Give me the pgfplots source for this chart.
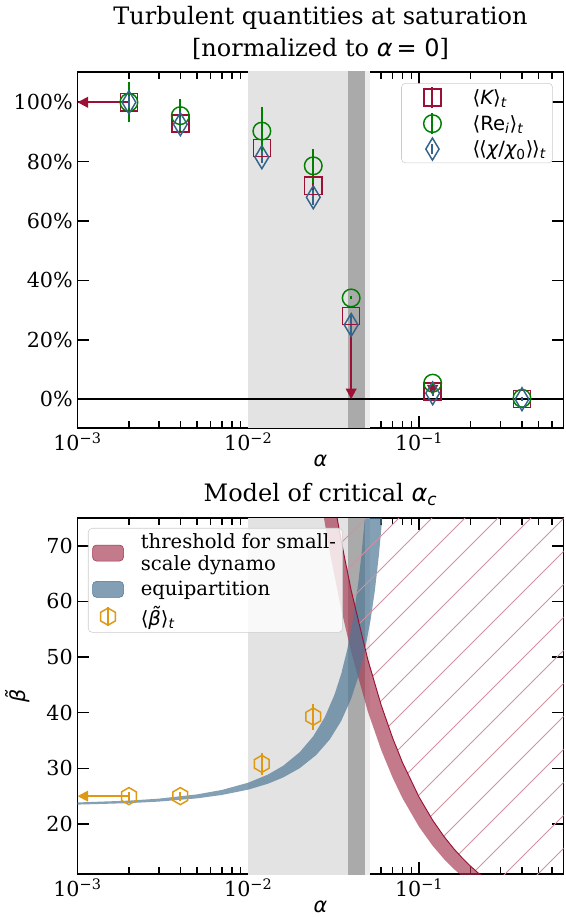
\documentclass[border=0pt]{standalone}
\usepackage{fontspec}
\setmainfont{DejaVu Serif}
\newfontfamily\dvs{DejaVu Sans}
\usepackage{pgfplots}
\pgfplotsset{compat=1.18}
\usetikzlibrary{arrows.meta,patterns.meta}

\definecolor{Kc}{RGB}{155,16,52}
\definecolor{Rc}{RGB}{0,128,0}
\definecolor{Cc}{RGB}{52,100,138}
\definecolor{Bc}{RGB}{222,152,18}
\definecolor{redband}{RGB}{163,51,77}
\definecolor{blueband}{RGB}{79,119,150}
\definecolor{hatchc}{RGB}{208,145,160}
\definecolor{lg}{RGB}{227,227,227}
\definecolor{dg}{RGB}{170,170,170}
\definecolor{lgb}{RGB}{236,236,236}

\pgfdeclareplotmark{hex}{%
  \pgfpathmoveto{\pgfqpointpolar{90}{\pgfplotmarksize}}%
  \pgfpathlineto{\pgfqpointpolar{150}{\pgfplotmarksize}}%
  \pgfpathlineto{\pgfqpointpolar{210}{\pgfplotmarksize}}%
  \pgfpathlineto{\pgfqpointpolar{270}{\pgfplotmarksize}}%
  \pgfpathlineto{\pgfqpointpolar{330}{\pgfplotmarksize}}%
  \pgfpathlineto{\pgfqpointpolar{30}{\pgfplotmarksize}}%
  \pgfpathclose
  \pgfusepathqstroke}

\newcommand\fs{\fontsize{15.5pt}{18.6pt}\selectfont}
\newcommand\fl{\fontsize{14.7pt}{16.5pt}\selectfont}
\newcommand\ft{\fontsize{18pt}{24pt}\selectfont}
\newcommand\mi[1]{{\dvs\itshape #1}}
\newcommand\sub[1]{\textsubscript{\dvs\itshape #1}}

\pgfplotsset{every axis/.append style={
  scale only axis, width=364.5pt, height=267pt,
  xmin=0.001, xmax=0.7,
  xtick={0.001,0.01,0.1},
  xticklabels={10\textsuperscript{−3},10\textsuperscript{−2},10\textsuperscript{−1}},
  minor xtick={0.002,0.003,0.004,0.005,0.006,0.007,0.008,0.009,0.02,0.03,0.04,0.05,0.06,0.07,0.08,0.09,0.2,0.3,0.4,0.5,0.6,0.7},
  tick align=inside, major tick length=9pt, minor tick length=5.5pt,
  every tick/.style={black, line width=1.2pt},
  axis line style={line width=1.4pt},
  tick label style={font=\fs},
  label style={font=\fs},
  xlabel style={yshift=4pt},
  title style={font=\ft, align=center},
  xlabel={\mi{α}},
  legend cell align=left,
}}

\begin{document}
\begin{tikzpicture}
\useasboundingbox (-58.125pt,-366.75pt) rectangle (365.625pt,321pt);

% ---------------- top panel ----------------
\begin{semilogxaxis}[at={(0pt,0pt)}, anchor=south west,
  ymin=-9.7, ymax=110.2,
  ytick={0,20,40,60,80,100},
  yticklabels={0\%,20\%,40\%,60\%,80\%,100\%},
  title={Turbulent quantities at saturation\\{[}normalized to \mi{α}\,{\dvs = 0}]},
  legend style={at={(0.978,0.969)}, anchor=north east, font=\fl,
    draw=black!20, fill=white, fill opacity=0.8, draw opacity=1, text opacity=1,
    rounded corners=3pt, row sep=2pt},
]
\addplot[forget plot, draw=none, fill=lg] coordinates {(0.01,-20) (0.0384,-20) (0.0384,120) (0.01,120)} --cycle;
\addplot[forget plot, draw=none, fill=dg] coordinates {(0.0384,-20) (0.0481,-20) (0.0481,120) (0.0384,120)} --cycle;
\addplot[forget plot, draw=none, fill=lgb] coordinates {(0.0481,-20) (0.0517,-20) (0.0517,120) (0.0481,120)} --cycle;
\addplot[forget plot, black, line width=1.1pt] coordinates {(0.0005,0) (1,0)};

\addplot[forget plot, Kc, line width=1.5pt, -{Triangle[width=8pt,length=8pt]}] coordinates {(0.002,100) (0.001,100)};
\addplot[forget plot, Kc, line width=1.5pt, -{Triangle[width=8pt,length=8pt]}] coordinates {(0.04,28) (0.04,0)};
\addplot[forget plot, Kc, line width=1.5pt, -{Triangle[width=8pt,length=8pt]}] coordinates {(0.12,4.6) (0.12,1.2)};

\addplot[forget plot, only marks, Kc, mark=square, mark size=6.4pt, mark options={line width=1.1pt},
  error bars/.cd, y dir=both, y explicit, error mark=none, error bar style={line width=1.5pt, Kc}]
  table[x=x, y=y, y error=e] {
x y e
0.002 100 1
0.004 92.9 1.5
0.012 84.6 2
0.024 71.9 2
0.04 28 0
0.12 2.6 0.5
0.4 0 0.5
};
\addplot[forget plot, only marks, Rc, mark=o, mark size=6.6pt, mark options={line width=1.1pt},
  error bars/.cd, y dir=both, y explicit, error mark=none, error bar style={line width=1.5pt, Rc}]
  table[x=x, y=y, y error=e] {
x y e
0.002 100 6.8
0.004 95.5 5.7
0.012 90.3 8
0.024 78.6 5.7
0.04 34.1 0.5
0.12 5.4 0.5
0.4 0.3 0.5
};
\addplot[forget plot, only marks, Cc, mark=diamond, mark size=8.6pt, mark options={line width=1.1pt, xscale=0.8},
  error bars/.cd, y dir=both, y explicit, error mark=none, error bar style={line width=1.5pt, Cc}]
  table[x=x, y=y, y error=e] {
x y e
0.002 100 2
0.004 92.6 2
0.012 81.5 2
0.024 68 2.5
0.04 25 3.5
0.12 2 1
0.4 0 0.5
};

\addlegendimage{legend image code/.code={
  \path (-20pt,0pt) (28pt,0pt);
  \draw[Kc, line width=1.5pt] (0pt,-8pt) -- (0pt,8pt);
  \draw[Kc, line width=1.1pt, mark=square, mark size=6.4pt] plot coordinates {(0pt,0pt)};}}
\addlegendentry{{\dvs ⟨\mi{K}⟩}\sub{t}}
\addlegendimage{legend image code/.code={
  \path (-20pt,0pt) (28pt,0pt);
  \draw[Rc, line width=1.5pt] (0pt,-8pt) -- (0pt,8pt);
  \draw[Rc, line width=1.1pt, mark=o, mark size=6.6pt] plot coordinates {(0pt,0pt)};}}
\addlegendentry{{\dvs ⟨Re\sub{i}⟩}\sub{t}}
\addlegendimage{legend image code/.code={
  \path (-20pt,0pt) (28pt,0pt);
  \draw[Cc, line width=1.5pt] (0pt,-4pt) -- (0pt,4pt);
  \draw[Cc, line width=1.1pt, mark=diamond, mark size=8.3pt, mark options={xscale=0.8}] plot coordinates {(0pt,0pt)};}}
\addlegendentry{{\dvs ⟨\kern-1pt⟨\mi{χ}/\mi{χ}\textsubscript{0}⟩\kern-1pt⟩}\sub{t}}
\end{semilogxaxis}

% ---------------- bottom panel ----------------
\begin{semilogxaxis}[at={(0pt,-334.5pt)}, anchor=south west,
  ymin=11, ymax=75,
  ytick={20,30,40,50,60,70},
  yticklabels={20,30,40,50,60,70},
  ylabel={\mi{β̃}},
  ylabel style={yshift=6pt},
  title={Model of critical \mi{α}\sub{c}},
  legend style={at={(0.0216,0.972)}, anchor=north west, font=\fl,
    draw=black!20, fill=white, fill opacity=0.8, draw opacity=1, text opacity=1,
    rounded corners=3pt, row sep=2.5pt},
]
\addplot[forget plot, draw=none, fill=lg] coordinates {(0.01,0) (0.0384,0) (0.0384,90) (0.01,90)} --cycle;
\addplot[forget plot, draw=none, fill=dg] coordinates {(0.0384,0) (0.0481,0) (0.0481,90) (0.0384,90)} --cycle;
\addplot[forget plot, draw=none, fill=lgb] coordinates {(0.0481,0) (0.0517,0) (0.0517,90) (0.0481,90)} --cycle;

% threshold band
\addplot[forget plot, draw=none, fill=redband, fill opacity=0.65] coordinates {
(0.0265,78.5) (0.03,68.86) (0.035,58.57) (0.04,50.93) (0.05,40.28) (0.06,33.27) (0.07,28.30) (0.08,24.59) (0.1,19.46) (0.12,16.07) (0.14,13.67) (0.16,11.88) (0.18,10.50)
(0.235,10.55) (0.22,11.27) (0.2,12.4) (0.18,13.78) (0.16,15.5) (0.14,17.71) (0.12,20.67) (0.1,24.8) (0.08,31.0) (0.07,35.43) (0.06,41.33) (0.05,49.6) (0.04,62.0) (0.035,70.86) (0.032,77.5)
} --cycle;

% equipartition band
\addplot[forget plot, draw=none, fill=blueband, fill opacity=0.7] coordinates {
(0.0009,23.81) (0.002,24.19) (0.003,24.55) (0.005,25.31) (0.007,26.11) (0.01,27.42) (0.013,28.86) (0.016,30.46) (0.02,32.90) (0.024,35.76) (0.028,39.17) (0.032,43.29) (0.035,47.0) (0.038,51.41) (0.041,56.72) (0.044,63.27) (0.046,68.54) (0.048,74.77) (0.049,78.33)
(0.062,78.52) (0.060,72.91) (0.058,68.05) (0.055,61.87) (0.052,56.71) (0.048,51.04) (0.044,46.4) (0.040,42.53) (0.035,38.52) (0.030,35.20) (0.025,32.41) (0.020,30.02) (0.016,28.36) (0.013,27.22) (0.010,26.17) (0.007,25.21) (0.005,24.60) (0.003,24.02) (0.002,23.74) (0.0009,23.44)
} --cycle;

% hatched region
\addplot[forget plot, draw=Kc, line width=0.7pt, pattern={Lines[angle=45,distance=17.5pt,line width=0.6pt]}, pattern color=hatchc] coordinates {
(0.031,80) (0.032,77.5) (0.035,70.86) (0.04,62.0) (0.05,49.6) (0.06,41.33) (0.07,35.43) (0.08,31.0) (0.1,24.8) (0.12,20.67) (0.14,17.71) (0.16,15.5) (0.18,13.78) (0.2,12.4) (0.22,11.27) (0.248,10) (1,10) (1,80)
} --cycle;

\addplot[forget plot, Bc, line width=1.5pt, -{Triangle[width=8pt,length=8pt]}] coordinates {(0.002,25) (0.001,25)};
\addplot[forget plot, only marks, Bc, mark=hex, mark size=6.4pt, mark options={line width=1.1pt},
  error bars/.cd, y dir=both, y explicit, error mark=none, error bar style={line width=1.5pt, Bc}]
  table[x=x, y=y, y error=e] {
x y e
0.002 25 0.8
0.004 25 0.8
0.012 30.8 2.0
0.024 39.3 2.35
};

\addlegendimage{legend image code/.code={
  \path (0pt,0pt) (34pt,0pt);
  \fill[redband, fill opacity=0.65] (0pt,-6pt) rectangle (23.25pt,6pt);}}
\addlegendentry[align=left]{threshold for small-\\scale dynamo}
\addlegendimage{legend image code/.code={
  \path (0pt,0pt) (34pt,0pt);
  \fill[blueband, fill opacity=0.7] (0pt,-6pt) rectangle (23.25pt,6pt);}}
\addlegendentry{equipartition}
\addlegendimage{legend image code/.code={
  \path (0pt,0pt) (34pt,0pt);
  \draw[Bc, line width=1.5pt] (11.6pt,-7pt) -- (11.6pt,7pt);
  \draw[Bc, line width=1.1pt, mark=hex, mark size=6.4pt] plot coordinates {(11.6pt,0pt)};}}
\addlegendentry{{\dvs ⟨\mi{β̃}⟩}\sub{t}}
\end{semilogxaxis}
\end{tikzpicture}
\end{document}
